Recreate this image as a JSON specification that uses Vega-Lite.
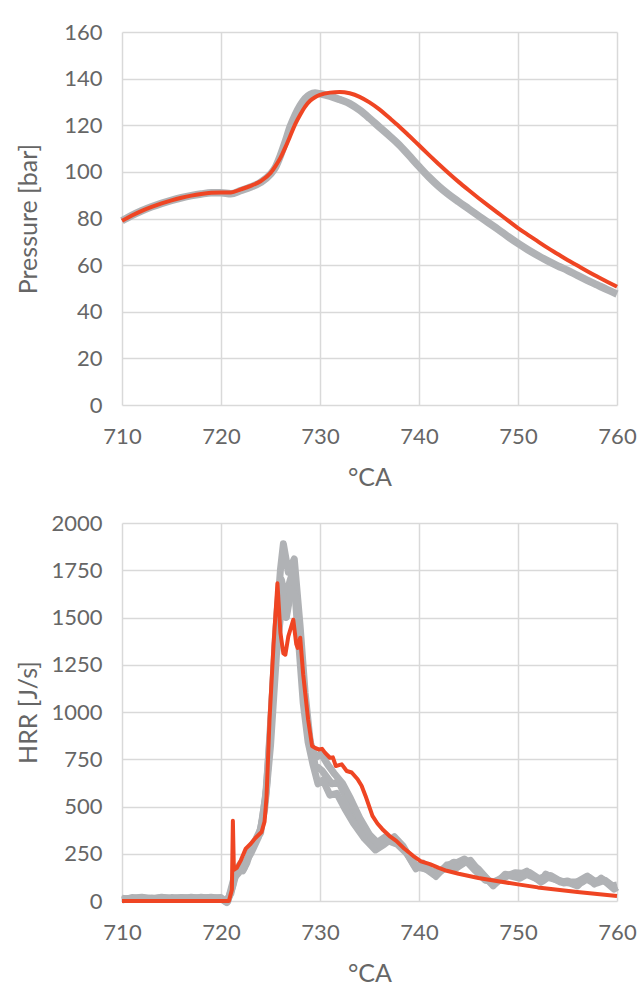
{
  "$schema": "https://vega.github.io/schema/vega-lite/v6.json",
  "padding": {"left": 16, "top": 21, "right": 0, "bottom": 0},
  "background": "white",
  "spacing": 22,
  "config": {
    "view": {"stroke": null},
    "axis": {
      "labelFont": "Lato", "labelFontSize": 22, "labelColor": "#666666", "labelFlush": false,
      "titleFont": "Lato", "titleFontSize": 25, "titleFontWeight": "normal", "titleColor": "#666666",
      "gridColor": "#d9d9d9", "gridWidth": 1.5, "domain": false, "ticks": false
    },
    "axisY": {"labelPadding": 20, "minExtent": 72, "maxExtent": 72, "titlePadding": 9, "format": "d"},
    "axisX": {"labelPadding": 21, "titlePadding": 18}
  },
  "datasets": {
    "pexp": [
      {"ca":710,"p":79},{"ca":711,"p":81.3},{"ca":712,"p":83.3},{"ca":713,"p":85},{"ca":714,"p":86.5},{"ca":715,"p":87.8},{"ca":716,"p":88.9},{"ca":717,"p":89.8},{"ca":718,"p":90.5},{"ca":719,"p":91},{"ca":720,"p":91},{"ca":721,"p":90.6},{"ca":722,"p":92},{"ca":723,"p":93.5},{"ca":724,"p":95.5},{"ca":725,"p":99},{"ca":725.5,"p":102},{"ca":726,"p":107},{"ca":726.5,"p":113},{"ca":727,"p":119.5},{"ca":727.5,"p":124.5},{"ca":728,"p":128.5},{"ca":728.5,"p":131.5},{"ca":729,"p":133.2},{"ca":729.5,"p":133.8},{"ca":730,"p":133.5},{"ca":731,"p":132.5},{"ca":732,"p":131},{"ca":733,"p":129.3},{"ca":734,"p":126.5},{"ca":735,"p":123},{"ca":736,"p":119.2},{"ca":737,"p":115.5},{"ca":738,"p":111.6},{"ca":739,"p":107},{"ca":740,"p":102.3},{"ca":741,"p":97.8},{"ca":742,"p":93.8},{"ca":743,"p":90.3},{"ca":744,"p":87.2},{"ca":745,"p":84.2},{"ca":746,"p":81.2},{"ca":747,"p":78.2},{"ca":748,"p":75.3},{"ca":749,"p":72.2},{"ca":750,"p":69.3},{"ca":751,"p":66.6},{"ca":752,"p":64.1},{"ca":753,"p":61.8},{"ca":754,"p":59.7},{"ca":755,"p":57.8},{"ca":756,"p":55.6},{"ca":757,"p":53.5},{"ca":758,"p":51.5},{"ca":759,"p":49.5},{"ca":760,"p":47.6}
    ],
    "psim": [
      {"ca":710,"p":79},{"ca":711,"p":81.3},{"ca":712,"p":83.3},{"ca":713,"p":85},{"ca":714,"p":86.5},{"ca":715,"p":87.8},{"ca":716,"p":88.9},{"ca":717,"p":89.8},{"ca":718,"p":90.5},{"ca":719,"p":91},{"ca":720,"p":91.2},{"ca":721,"p":91.2},{"ca":722,"p":92.5},{"ca":723,"p":94},{"ca":724,"p":96},{"ca":725,"p":99.5},{"ca":725.5,"p":102.5},{"ca":726,"p":106},{"ca":726.5,"p":110.5},{"ca":727,"p":115.5},{"ca":727.5,"p":120.5},{"ca":728,"p":124.5},{"ca":728.5,"p":128},{"ca":729,"p":130.5},{"ca":729.5,"p":132},{"ca":730,"p":133},{"ca":731,"p":134},{"ca":732,"p":134.3},{"ca":733,"p":133.7},{"ca":734,"p":132.2},{"ca":735,"p":129.8},{"ca":736,"p":126.8},{"ca":737,"p":123.2},{"ca":738,"p":119.5},{"ca":739,"p":115.5},{"ca":740,"p":111.4},{"ca":741,"p":107.3},{"ca":742,"p":103.3},{"ca":743,"p":99.4},{"ca":744,"p":95.7},{"ca":745,"p":92.2},{"ca":746,"p":88.8},{"ca":747,"p":85.5},{"ca":748,"p":82.3},{"ca":749,"p":79.1},{"ca":750,"p":75.9},{"ca":751,"p":73},{"ca":752,"p":70.2},{"ca":753,"p":67.4},{"ca":754,"p":64.8},{"ca":755,"p":62.2},{"ca":756,"p":59.8},{"ca":757,"p":57.4},{"ca":758,"p":55.1},{"ca":759,"p":52.9},{"ca":760,"p":50.7}
    ],
    "hexp": [
      {"s":"g1","ca":710,"h":10},{"s":"g1","ca":711,"h":15},{"s":"g1","ca":712,"h":20},{"s":"g1","ca":713,"h":12},{"s":"g1","ca":714,"h":18},{"s":"g1","ca":715,"h":14},{"s":"g1","ca":716,"h":18},{"s":"g1","ca":717,"h":16},{"s":"g1","ca":718,"h":15},{"s":"g1","ca":719,"h":20},{"s":"g1","ca":720,"h":12},{"s":"g1","ca":720.5,"h":-5},{"s":"g1","ca":721,"h":40},{"s":"g1","ca":721.5,"h":160},{"s":"g1","ca":722,"h":200},{"s":"g1","ca":722.3,"h":170},{"s":"g1","ca":723,"h":270},{"s":"g1","ca":724,"h":380},{"s":"g1","ca":724.5,"h":550},{"s":"g1","ca":725,"h":900},{"s":"g1","ca":725.5,"h":1400},{"s":"g1","ca":726,"h":1750},{"s":"g1","ca":726.3,"h":1890},{"s":"g1","ca":726.8,"h":1740},{"s":"g1","ca":727.4,"h":1810},{"s":"g1","ca":728,"h":1450},{"s":"g1","ca":728.5,"h":1100},{"s":"g1","ca":729,"h":850},{"s":"g1","ca":729.5,"h":720},{"s":"g1","ca":730.2,"h":690},{"s":"g1","ca":731.2,"h":620},{"s":"g1","ca":731.9,"h":630},{"s":"g1","ca":732.7,"h":540},{"s":"g1","ca":733.6,"h":450},{"s":"g1","ca":734.6,"h":370},{"s":"g1","ca":735.8,"h":310},{"s":"g1","ca":736.6,"h":340},{"s":"g1","ca":737.7,"h":320},{"s":"g1","ca":738.5,"h":275},{"s":"g1","ca":739.7,"h":170},{"s":"g1","ca":740.4,"h":200},{"s":"g1","ca":741.7,"h":130},{"s":"g1","ca":742.8,"h":190},{"s":"g1","ca":743.5,"h":195},{"s":"g1","ca":744.6,"h":222},{"s":"g1","ca":746,"h":169},{"s":"g1","ca":747.5,"h":80},{"s":"g1","ca":748.7,"h":142},{"s":"g1","ca":749.9,"h":132},{"s":"g1","ca":750.9,"h":158},{"s":"g1","ca":752.3,"h":100},{"s":"g1","ca":752.8,"h":142},{"s":"g1","ca":754.3,"h":100},{"s":"g1","ca":755,"h":106},{"s":"g1","ca":755.6,"h":90},{"s":"g1","ca":757,"h":132},{"s":"g1","ca":757.7,"h":90},{"s":"g1","ca":758.4,"h":121},{"s":"g1","ca":759.7,"h":63},{"s":"g1","ca":760,"h":74},
      {"s":"g2","ca":710,"h":5},{"s":"g2","ca":711,"h":18},{"s":"g2","ca":712,"h":12},{"s":"g2","ca":713,"h":16},{"s":"g2","ca":714,"h":10},{"s":"g2","ca":715,"h":18},{"s":"g2","ca":716,"h":12},{"s":"g2","ca":717,"h":20},{"s":"g2","ca":718,"h":14},{"s":"g2","ca":719,"h":16},{"s":"g2","ca":720,"h":18},{"s":"g2","ca":720.6,"h":-8},{"s":"g2","ca":721.2,"h":80},{"s":"g2","ca":721.7,"h":180},{"s":"g2","ca":722.2,"h":160},{"s":"g2","ca":722.6,"h":200},{"s":"g2","ca":723.2,"h":300},{"s":"g2","ca":724,"h":360},{"s":"g2","ca":724.6,"h":600},{"s":"g2","ca":725.2,"h":1100},{"s":"g2","ca":725.7,"h":1550},{"s":"g2","ca":726.1,"h":1700},{"s":"g2","ca":726.5,"h":1600},{"s":"g2","ca":727,"h":1700},{"s":"g2","ca":727.3,"h":1750},{"s":"g2","ca":727.8,"h":1400},{"s":"g2","ca":728.3,"h":1050},{"s":"g2","ca":728.8,"h":840},{"s":"g2","ca":729.3,"h":720},{"s":"g2","ca":729.8,"h":620},{"s":"g2","ca":730.3,"h":640},{"s":"g2","ca":731,"h":560},{"s":"g2","ca":731.7,"h":570},{"s":"g2","ca":732.5,"h":490},{"s":"g2","ca":733.4,"h":410},{"s":"g2","ca":734.5,"h":330},{"s":"g2","ca":735.6,"h":270},{"s":"g2","ca":736.5,"h":300},{"s":"g2","ca":737.5,"h":340},{"s":"g2","ca":738.4,"h":290},{"s":"g2","ca":739.5,"h":190},{"s":"g2","ca":740.3,"h":185},{"s":"g2","ca":741.5,"h":140},{"s":"g2","ca":742.6,"h":175},{"s":"g2","ca":743.5,"h":205},{"s":"g2","ca":744.4,"h":200},{"s":"g2","ca":745.2,"h":215},{"s":"g2","ca":746.2,"h":150},{"s":"g2","ca":747.3,"h":95},{"s":"g2","ca":748.5,"h":125},{"s":"g2","ca":749.7,"h":150},{"s":"g2","ca":750.7,"h":145},{"s":"g2","ca":752,"h":115},{"s":"g2","ca":752.7,"h":130},{"s":"g2","ca":754,"h":110},{"s":"g2","ca":755.2,"h":95},{"s":"g2","ca":756,"h":80},{"s":"g2","ca":756.8,"h":120},{"s":"g2","ca":757.5,"h":100},{"s":"g2","ca":758.5,"h":115},{"s":"g2","ca":759.5,"h":80},{"s":"g2","ca":760,"h":85},
      {"s":"g3","ca":710,"h":15},{"s":"g3","ca":711,"h":8},{"s":"g3","ca":712,"h":18},{"s":"g3","ca":713,"h":10},{"s":"g3","ca":714,"h":20},{"s":"g3","ca":715,"h":12},{"s":"g3","ca":716,"h":16},{"s":"g3","ca":717,"h":12},{"s":"g3","ca":718,"h":20},{"s":"g3","ca":719,"h":14},{"s":"g3","ca":720,"h":10},{"s":"g3","ca":720.7,"h":0},{"s":"g3","ca":721.3,"h":120},{"s":"g3","ca":721.8,"h":150},{"s":"g3","ca":722.3,"h":190},{"s":"g3","ca":723,"h":250},{"s":"g3","ca":723.8,"h":340},{"s":"g3","ca":724.4,"h":480},{"s":"g3","ca":725,"h":820},{"s":"g3","ca":725.6,"h":1300},{"s":"g3","ca":726.2,"h":1600},{"s":"g3","ca":726.6,"h":1500},{"s":"g3","ca":727.1,"h":1650},{"s":"g3","ca":727.6,"h":1600},{"s":"g3","ca":728.1,"h":1250},{"s":"g3","ca":728.6,"h":960},{"s":"g3","ca":729.1,"h":820},{"s":"g3","ca":729.6,"h":760},{"s":"g3","ca":730.1,"h":780},{"s":"g3","ca":730.8,"h":720},{"s":"g3","ca":731.5,"h":670},{"s":"g3","ca":732.3,"h":620},{"s":"g3","ca":733.1,"h":540},{"s":"g3","ca":734,"h":440},{"s":"g3","ca":735,"h":350},{"s":"g3","ca":736,"h":295},{"s":"g3","ca":736.8,"h":320},{"s":"g3","ca":737.8,"h":300},{"s":"g3","ca":738.8,"h":250},{"s":"g3","ca":739.8,"h":180},{"s":"g3","ca":740.6,"h":170},{"s":"g3","ca":741.9,"h":150},{"s":"g3","ca":742.9,"h":180},{"s":"g3","ca":743.8,"h":175},{"s":"g3","ca":744.8,"h":210},{"s":"g3","ca":745.7,"h":160},{"s":"g3","ca":746.7,"h":110},{"s":"g3","ca":747.8,"h":100},{"s":"g3","ca":749,"h":135},{"s":"g3","ca":750.2,"h":120},{"s":"g3","ca":751.2,"h":150},{"s":"g3","ca":752.5,"h":105},{"s":"g3","ca":753.3,"h":135},{"s":"g3","ca":754.6,"h":95},{"s":"g3","ca":755.5,"h":100},{"s":"g3","ca":756.5,"h":100},{"s":"g3","ca":757.2,"h":125},{"s":"g3","ca":758,"h":95},{"s":"g3","ca":758.8,"h":110},{"s":"g3","ca":759.8,"h":70},{"s":"g3","ca":760,"h":75}
    ],
    "hsim": [
      {"ca":710,"h":0},{"ca":715,"h":0},{"ca":720,"h":0},{"ca":720.8,"h":0},{"ca":721.1,"h":60},{"ca":721.2,"h":425},{"ca":721.3,"h":165},{"ca":721.6,"h":175},{"ca":722,"h":215},{"ca":722.5,"h":277},{"ca":723,"h":303},{"ca":723.5,"h":335},{"ca":724.1,"h":365},{"ca":724.4,"h":420},{"ca":724.6,"h":550},{"ca":724.9,"h":960},{"ca":725.3,"h":1350},{"ca":725.7,"h":1681},{"ca":726,"h":1420},{"ca":726.3,"h":1310},{"ca":726.5,"h":1303},{"ca":726.8,"h":1400},{"ca":727.3,"h":1488},{"ca":727.6,"h":1360},{"ca":727.75,"h":1339},{"ca":728,"h":1393},{"ca":728.3,"h":1200},{"ca":728.8,"h":960},{"ca":729.2,"h":820},{"ca":729.5,"h":810},{"ca":729.86,"h":802},{"ca":730.2,"h":805},{"ca":730.5,"h":785},{"ca":731,"h":758},{"ca":731.3,"h":760},{"ca":731.6,"h":714},{"ca":732,"h":720},{"ca":732.2,"h":723},{"ca":732.7,"h":688},{"ca":733.2,"h":680},{"ca":733.8,"h":644},{"ca":734.2,"h":610},{"ca":734.6,"h":556},{"ca":735.3,"h":450},{"ca":735.8,"h":410},{"ca":736.3,"h":380},{"ca":737,"h":345},{"ca":737.7,"h":318},{"ca":738.5,"h":278},{"ca":739.4,"h":239},{"ca":740.2,"h":210},{"ca":741.1,"h":195},{"ca":742,"h":175},{"ca":742.8,"h":160},{"ca":744,"h":144},{"ca":746,"h":122},{"ca":748,"h":104},{"ca":750,"h":88},{"ca":752,"h":72},{"ca":754,"h":60},{"ca":756,"h":48},{"ca":758,"h":37},{"ca":760,"h":27}
    ]
  },
  "vconcat": [
    {
      "width": 495,
      "height": 373,
      "encoding": {
        "x": {"field": "ca", "type": "quantitative", "scale": {"domain": [710, 760], "nice": false, "zero": false},
              "axis": {"values": [710, 720, 730, 740, 750, 760], "title": "°CA"}},
        "y": {"field": "p", "type": "quantitative", "scale": {"domain": [0, 160], "nice": false},
              "axis": {"values": [0, 20, 40, 60, 80, 100, 120, 140, 160], "title": "Pressure [bar]"}}
      },
      "layer": [
        {"data": {"name": "pexp"}, "mark": {"type": "line", "color": "#b0b2b5", "strokeWidth": 7.5, "interpolate": "monotone"}},
        {"data": {"name": "psim"}, "mark": {"type": "line", "color": "#ef4523", "strokeWidth": 4, "interpolate": "monotone"}}
      ]
    },
    {
      "width": 495,
      "height": 378,
      "encoding": {
        "x": {"field": "ca", "type": "quantitative", "scale": {"domain": [710, 760], "nice": false, "zero": false},
              "axis": {"values": [710, 720, 730, 740, 750, 760], "title": "°CA"}},
        "y": {"field": "h", "type": "quantitative", "scale": {"domain": [0, 2000], "nice": false},
              "axis": {"values": [0, 250, 500, 750, 1000, 1250, 1500, 1750, 2000], "title": "HRR [J/s]"}}
      },
      "layer": [
        {"data": {"name": "hexp"}, "mark": {"type": "line", "color": "#b0b2b5", "strokeWidth": 7, "strokeJoin": "round"},
         "encoding": {"detail": {"field": "s", "type": "nominal"}}},
        {"data": {"name": "hsim"}, "mark": {"type": "line", "color": "#ef4523", "strokeWidth": 4, "strokeJoin": "round"}}
      ]
    }
  ]
}
